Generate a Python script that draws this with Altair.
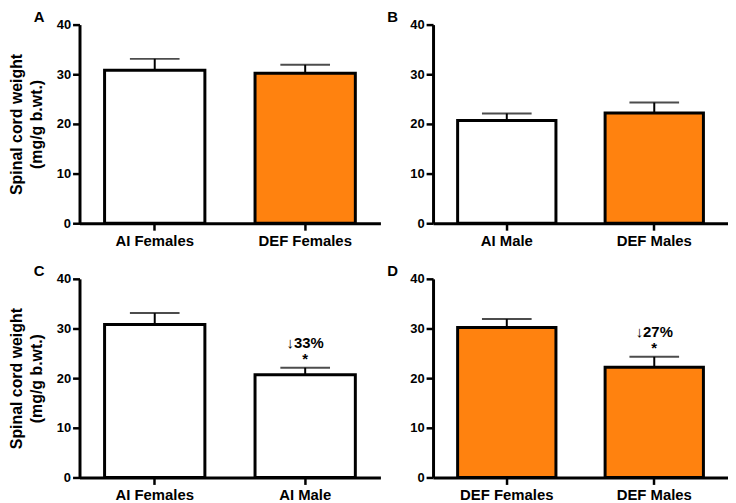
import altair as alt
import pandas as pd

# ---- data ----
panel_letters = ["A", "B", "C", "D"]
panel_categories = [
    ["AI Females", "DEF Females"],
    ["AI Male", "DEF Males"],
    ["AI Females", "AI Male"],
    ["DEF Females", "DEF Males"],
]
panel_diets = [
    ["AI", "DEF"],
    ["AI", "DEF"],
    ["AI", "AI"],
    ["DEF", "DEF"],
]
panel_means = [
    [30.8, 30.2],
    [20.7, 22.2],
    [30.8, 20.7],
    [30.2, 22.2],
]
panel_sems = [
    [2.3, 1.7],
    [1.4, 2.1],
    [2.3, 1.4],
    [1.7, 2.1],
]
panel_notes = [
    ["", ""],
    ["", ""],
    ["", "↓33%"],
    ["", "↓27%"],
]
y_ticks = [0, 10, 20, 30, 40]
y_title = ["Spinal cord weight", "(mg/g b.wt.)"]
diet_domain = ["AI", "DEF"]
diet_colors = ["white", "#FF820F"]

FONT = "Liberation Sans, DejaVu Sans, Arial, sans-serif"


def make_panel(i, width, show_title, title_dx):
    cats = panel_categories[i]
    df = pd.DataFrame({
        "category": cats,
        "diet": panel_diets[i],
        "mean": panel_means[i],
        "upper": [m + s for m, s in zip(panel_means[i], panel_sems[i])],
        "note": panel_notes[i],
    })
    base = alt.Chart(df)
    x = alt.X(
        "category:N",
        sort=cats,
        scale=alt.Scale(paddingInner=1 / 3, paddingOuter=1 / 6),
        axis=alt.Axis(title=None, labelAngle=0, labelFontSize=15, labelPadding=3),
    )
    yscale = alt.Scale(domain=[0, 40], nice=False)
    y_axis = alt.Axis(
        values=y_ticks,
        labelFontSize=13,
        labelPadding=2,
        title=y_title if show_title else None,
        titleFontSize=16,
        titleFont=FONT,
        titleFontWeight="bold",
        titleColor="black",
        titlePadding=12,
        titleLineHeight=20,
    )
    bars = base.mark_bar(stroke="black", strokeWidth=3).encode(
        x=x,
        y=alt.Y("mean:Q", scale=yscale, axis=y_axis),
        fill=alt.Fill("diet:N", scale=alt.Scale(domain=diet_domain, range=diet_colors), legend=None),
    )
    rule = base.mark_rule(color="black", strokeWidth=2).encode(
        x=x, y=alt.Y("mean:Q", scale=yscale), y2="upper:Q"
    )
    cap = base.mark_tick(color="black", thickness=2, size=50).encode(
        x=x, y=alt.Y("upper:Q", scale=yscale)
    )
    noted = base.transform_filter(alt.datum.note != "")
    star = noted.mark_text(
        text="*", font=FONT, fontWeight="bold", fontSize=15, dy=-4,
        baseline="alphabetic", color="black",
    ).encode(x=x, y=alt.Y("upper:Q", scale=yscale))
    pct = noted.mark_text(
        font=FONT, fontWeight="bold", fontSize=15, dy=-20,
        baseline="alphabetic", color="black",
    ).encode(x=x, y=alt.Y("upper:Q", scale=yscale), text="note:N")
    return alt.layer(bars, rule, cap, star, pct).properties(
        width=width,
        height=200,
        title=alt.TitleParams(
            panel_letters[i], anchor="start", frame="group", dx=title_dx, dy=24,
            offset=6, fontSize=15, fontWeight="bold", font=FONT, color="black",
            baseline="alphabetic",
        ),
    )


pA = make_panel(0, 303, True, -46)
pB = make_panel(1, 297, False, -46)
pC = make_panel(2, 303, True, -46)
pD = make_panel(3, 297, False, -46)

chart = alt.concat(
    pA, pB, pC, pD, columns=2, spacing={"row": 56, "column": 53}, bounds="flush"
).properties(
    padding={"left": 0, "top": 0, "right": 0, "bottom": 0},
    background="white",
).configure_view(stroke=None).configure_axis(
    grid=False,
    domainColor="black",
    domainWidth=3,
    tickColor="black",
    tickWidth=2.5,
    tickSize=7,
    labelFont=FONT,
    labelFontWeight="bold",
    labelColor="black",
)

chart.save("out.html", embed_options={"renderer": "svg", "actions": False})
